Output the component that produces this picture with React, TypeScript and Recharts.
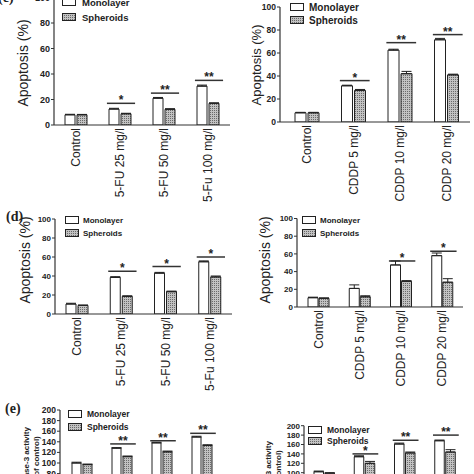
import React from 'react';
import { BarChart, Bar, XAxis, YAxis, ErrorBar, Legend, ReferenceArea } from 'recharts';

// categories
const cats5FU = ['Control', '5-FU 25 mg/l', '5-FU 50 mg/l', '5-Fu 100 mg/l'];
const catsCDDP = ['Control', 'CDDP 5 mg/l', 'CDDP 10 mg/l', 'CDDP 20 mg/l'];
const seriesNames = ['Monolayer', 'Spheroids'];

const apoTicks = [0, 20, 40, 60, 80, 100];
const caspTicks = [0, 20, 40, 60, 80, 100, 120, 140, 160, 180, 200];

// (c) apoptosis, 5-FU
const c5fuMono = [8, 12.5, 21, 30.5];
const c5fuMonoErr = [0.4, 0.6, 0.6, 0.8];
const c5fuSph = [8, 8.8, 12.3, 17];
const c5fuSphErr = [0.3, 0.4, 0.5, 0.4];
const c5fuSig = [null, 17, 25, 35];
const c5fuStars = ['', '*', '**', '**'];

// (c) apoptosis, CDDP
const cCddpMono = [8, 31.5, 62.5, 71.5];
const cCddpMonoErr = [0.4, 0.5, 0.8, 1.2];
const cCddpSph = [8, 27.5, 42, 41];
const cCddpSphErr = [0.4, 0.8, 2, 0.6];
const cCddpSig = [null, 36, 69, 76];
const cCddpStars = ['', '*', '**', '**'];

// (d) apoptosis, 5-FU
const d5fuMono = [10.5, 38.5, 43, 55];
const d5fuMonoErr = [0.8, 0.8, 0.8, 0.9];
const d5fuSph = [9, 18.5, 23.5, 39];
const d5fuSphErr = [0.5, 0.7, 0.6, 1];
const d5fuSig = [null, 45, 50, 60];
const d5fuStars = ['', '*', '*', '*'];

// (d) apoptosis, CDDP
const dCddpMono = [10.5, 21, 47.5, 58];
const dCddpMonoErr = [0.6, 4, 4.5, 3];
const dCddpSph = [9.8, 11.5, 29, 28];
const dCddpSphErr = [0.5, 1.2, 0.8, 4];
const dCddpSig = [null, null, 52, 63];
const dCddpStars = ['', '', '*', '*'];

// (e) caspase-3, 5-FU
const e5fuMono = [100, 128, 138, 149];
const e5fuMonoErr = [1.5, 1, 1.2, 1.5];
const e5fuSph = [97, 112, 121, 133];
const e5fuSphErr = [1, 1.2, 1.5, 1.5];
const e5fuSig = [null, 136, 142, 156];
const e5fuStars = ['', '**', '**', '**'];

// (e) caspase-3, CDDP
const eCddpMono = [102, 134, 161, 168];
const eCddpMonoErr = [1.5, 2, 2, 1.5];
const eCddpSph = [99, 120, 142, 144];
const eCddpSphErr = [1, 4, 2, 5];
const eCddpSig = [null, 140, 169, 180];
const eCddpStars = ['', '*', '**', '**'];

const makeRows = (cats: string[], mono: number[], monoErr: number[], sph: number[], sphErr: number[]) =>
  cats.map((cat, i) => ({
    cat,
    mono: mono[i],
    sph: sph[i],
    monoErr: [0, monoErr[i]],
    sphErr: [0, sphErr[i]],
  }));

const FONT = '"Liberation Sans", Arial, sans-serif';

const XTick = (props: any) => {
  const { x, y, payload } = props;
  return (
    <text
      x={x}
      y={y}
      transform={`rotate(-90, ${x}, ${y})`}
      textAnchor="end"
      dominantBaseline="central"
      fontSize={12}
      fill="#222"
      fontFamily={FONT}
    >
      {payload.value}
    </text>
  );
};

const sigShape = (stars: string) => (p: any) => {
  const x1 = p.x + p.width * 0.18 + 1;
  const x2 = p.x + p.width * 0.82 + 1;
  const cy = p.y + (p.height || 0);
  return (
    <g>
      <line x1={x1} x2={x2} y1={cy} y2={cy} stroke="#333" strokeWidth={1.5} />
      <text x={(x1 + x2) / 2} y={cy + 1} textAnchor="middle" fontSize={12} fontWeight="bold" fill="#222" fontFamily={FONT}>
        {stars}
      </text>
    </g>
  );
};

interface PanelProps {
  cats: string[];
  rows: any[];
  sig: (number | null)[];
  stars: string[];
  box: { left: number; top: number; width: number; height: number };
  margin: { top: number; right: number };
  yWidth: number;
  padLeft: number;
  xHeight: number;
  barSize: number;
  barGap: number;
  domain: [number, number];
  ticks: number[];
  tickFont: number;
  legend: { left: number; top: number; font: number; rowH: number; gap: number };
}

const Panel = (p: PanelProps) => {
  const legendContent = () => (
    <div style={{ fontFamily: FONT, fontWeight: 'bold', fontSize: p.legend.font, color: '#222' }}>
      {seriesNames.map((n, i) => (
        <div key={n} style={{ display: 'flex', alignItems: 'center', height: p.legend.rowH }}>
          <svg width={14} height={8} style={{ display: 'block', marginRight: p.legend.gap }}>
            <rect x={0.5} y={0.5} width={13} height={7} fill={i === 0 ? '#fff' : 'url(#sphFill)'} stroke="#222" />
          </svg>
          <span>{n}</span>
        </div>
      ))}
    </div>
  );

  return (
    <div style={{ position: 'absolute', left: p.box.left, top: p.box.top }}>
      <BarChart
        width={p.box.width}
        height={p.box.height}
        data={p.rows}
        margin={{ top: p.margin.top, right: p.margin.right, left: 0, bottom: 0 }}
        barSize={p.barSize}
        barGap={p.barGap}
      >
        <XAxis
          dataKey="cat"
          height={p.xHeight}
          interval={0}
          tick={<XTick />}
          tickLine={false}
          tickSize={0}
          tickMargin={3}
          padding={{ left: p.padLeft, right: 0 }}
          axisLine={{ stroke: '#333', strokeWidth: 1.2 }}
        />
        <YAxis
          width={p.yWidth}
          domain={p.domain}
          ticks={p.ticks}
          interval={0}
          tickSize={3}
          tickMargin={1}
          allowDataOverflow
          axisLine={{ stroke: '#333', strokeWidth: 1.2 }}
          tickLine={{ stroke: '#333' }}
          tick={{ fontSize: p.tickFont, fontWeight: 'bold', fill: '#222', fontFamily: FONT }}
        />
        <Legend
          layout="vertical"
          align="center"
          verticalAlign="middle"
          content={legendContent}
          wrapperStyle={{ left: p.legend.left, top: p.legend.top, width: 'auto', height: 'auto' }}
        />
        <Bar dataKey="mono" name={seriesNames[0]} fill="#fff" stroke="#222" strokeWidth={1} isAnimationActive={false}>
          <ErrorBar dataKey="monoErr" direction="y" width={5} stroke="#222" strokeWidth={1} />
        </Bar>
        <Bar dataKey="sph" name={seriesNames[1]} fill="url(#sphFill)" stroke="#222" strokeWidth={1} isAnimationActive={false}>
          <ErrorBar dataKey="sphErr" direction="y" width={5} stroke="#222" strokeWidth={1} />
        </Bar>
        {p.cats.map((c, i) =>
          p.sig[i] == null ? null : (
            <ReferenceArea
              key={c}
              x1={c}
              x2={c}
              y1={p.sig[i] as number}
              y2={p.sig[i] as number}
              shape={sigShape(p.stars[i])}
            />
          )
        )}
      </BarChart>
    </div>
  );
};

const RotTitle = ({ x, y, size, lines }: { x: number; y: number; size: number; lines: string[] }) => (
  <div
    style={{
      position: 'absolute',
      left: x,
      top: y,
      transform: 'translate(-50%, -50%) rotate(-90deg)',
      whiteSpace: 'nowrap',
      textAlign: 'center',
      fontFamily: FONT,
      fontSize: size,
      lineHeight: `${size + 2}px`,
      fontWeight: lines.length > 1 ? 'bold' : 'normal',
      color: '#222',
    }}
  >
    {lines.map((l) => (
      <div key={l}>{l}</div>
    ))}
  </div>
);

const PanelTag = ({ x, y, t }: { x: number; y: number; t: string }) => (
  <div style={{ position: 'absolute', left: x, top: y, fontFamily: '"Liberation Serif", serif', fontSize: 14, fontWeight: 'bold', color: '#222' }}>
    {t}
  </div>
);

export default function App() {
  return (
    <div style={{ position: 'absolute', left: 0, top: 0, width: 474, height: 474, overflow: 'hidden', background: '#fff' }}>
      <svg width={0} height={0} style={{ position: 'absolute' }}>
        <defs>
          <pattern id="sphFill" width={2} height={2} patternUnits="userSpaceOnUse">
            <rect width={2} height={2} fill="#c2c2c2" />
            <rect width={1} height={1} fill="#6a6a6a" />
          </pattern>
        </defs>
      </svg>

      <Panel
        cats={cats5FU}
        rows={makeRows(cats5FU, c5fuMono, c5fuMonoErr, c5fuSph, c5fuSphErr)}
        sig={c5fuSig}
        stars={c5fuStars}
        box={{ left: 0, top: -10, width: 237, height: 215 }}
        margin={{ top: 7.5, right: 7 }}
        yWidth={54}
        padLeft={0}
        xHeight={80}
        barSize={10}
        barGap={2}
        domain={[0, 100]}
        ticks={apoTicks}
        tickFont={9}
        legend={{ left: 62, top: 4.5, font: 9.5, rowH: 15, gap: 6 }}
      />
      <Panel
        cats={catsCDDP}
        rows={makeRows(catsCDDP, cCddpMono, cCddpMonoErr, cCddpSph, cCddpSphErr)}
        sig={cCddpSig}
        stars={cCddpStars}
        box={{ left: 237, top: -5, width: 237, height: 215 }}
        margin={{ top: 12, right: 4 }}
        yWidth={43}
        padLeft={4}
        xHeight={88}
        barSize={11}
        barGap={2}
        domain={[0, 100]}
        ticks={apoTicks}
        tickFont={8.5}
        legend={{ left: 53, top: 5.5, font: 10, rowH: 13, gap: 5 }}
      />
      <Panel
        cats={cats5FU}
        rows={makeRows(cats5FU, d5fuMono, d5fuMonoErr, d5fuSph, d5fuSphErr)}
        sig={d5fuSig}
        stars={d5fuStars}
        box={{ left: 0, top: 205, width: 237, height: 190 }}
        margin={{ top: 14, right: 5 }}
        yWidth={55}
        padLeft={0}
        xHeight={81}
        barSize={10}
        barGap={2}
        domain={[0, 100]}
        ticks={apoTicks}
        tickFont={8}
        legend={{ left: 65, top: 8.5, font: 8, rowH: 13, gap: 4 }}
      />
      <Panel
        cats={catsCDDP}
        rows={makeRows(catsCDDP, dCddpMono, dCddpMonoErr, dCddpSph, dCddpSphErr)}
        sig={dCddpSig}
        stars={dCddpStars}
        box={{ left: 237, top: 205, width: 237, height: 190 }}
        margin={{ top: 13.5, right: 11 }}
        yWidth={60}
        padLeft={1}
        xHeight={88}
        barSize={10}
        barGap={1}
        domain={[0, 100]}
        ticks={apoTicks}
        tickFont={8}
        legend={{ left: 65, top: 8.5, font: 8, rowH: 13, gap: 4 }}
      />
      <Panel
        cats={cats5FU}
        rows={makeRows(cats5FU, e5fuMono, e5fuMonoErr, e5fuSph, e5fuSphErr)}
        sig={e5fuSig}
        stars={e5fuStars}
        box={{ left: 0, top: 400, width: 237, height: 130 }}
        margin={{ top: 10, right: 15 }}
        yWidth={60}
        padLeft={2}
        xHeight={14}
        barSize={9}
        barGap={2}
        domain={[0, 200]}
        ticks={caspTicks}
        tickFont={8.5}
        legend={{ left: 68, top: 7.5, font: 8.5, rowH: 13, gap: 5 }}
      />
      <Panel
        cats={catsCDDP}
        rows={makeRows(catsCDDP, eCddpMono, eCddpMonoErr, eCddpSph, eCddpSphErr)}
        sig={eCddpSig}
        stars={eCddpStars}
        box={{ left: 237, top: 400, width: 237, height: 130 }}
        margin={{ top: 25.7, right: 9 }}
        yWidth={67}
        padLeft={0}
        xHeight={10.3}
        barSize={9.5}
        barGap={1.5}
        domain={[0, 200]}
        ticks={caspTicks}
        tickFont={8}
        legend={{ left: 71, top: 24, font: 8.5, rowH: 11.5, gap: 5 }}
      />

      <RotTitle x={23} y={63} size={14} lines={['Apoptosis (%)']} />
      <RotTitle x={256} y={65} size={13} lines={['Apoptosis (%)']} />
      <RotTitle x={25} y={260} size={14} lines={['Apoptosis (%)']} />
      <RotTitle x={265} y={260} size={14} lines={['Apoptosis (%)']} />
      <RotTitle x={32} y={462} size={8} lines={['Caspase-3 activity', '(% of control)']} />
      <RotTitle x={274} y={476} size={8} lines={['Caspase-3 activity', '(% of control)']} />

      <PanelTag x={-2} y={-10} t="(c)" />
      <PanelTag x={6} y={209} t="(d)" />
      <PanelTag x={5} y={401} t="(e)" />
    </div>
  );
}
